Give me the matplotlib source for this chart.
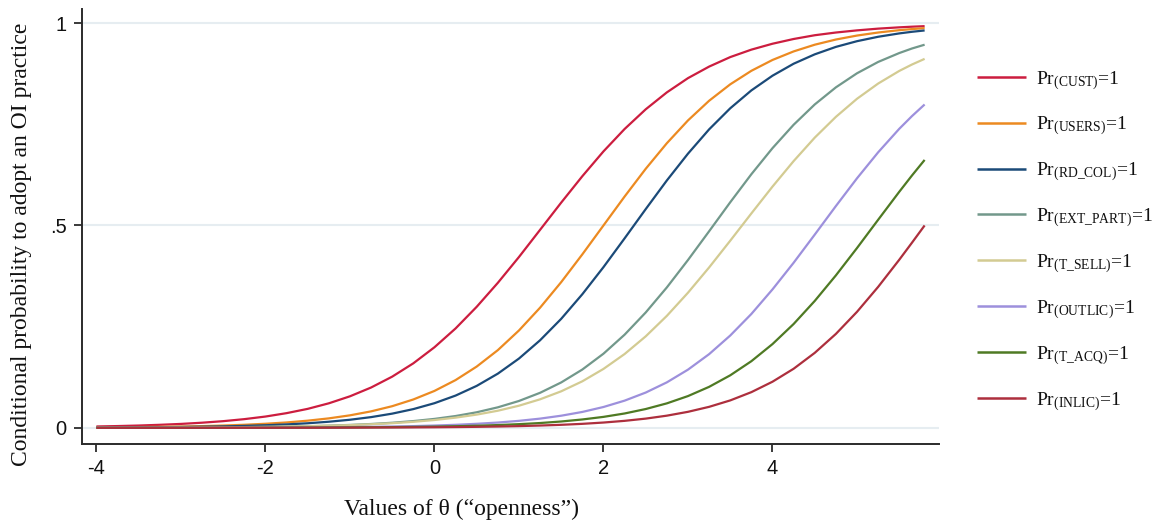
import matplotlib
matplotlib.use('Agg')
import matplotlib.pyplot as plt

# ── fonts ──────────────────────────────────────────────
plt.rcParams['font.family'] = ['Liberation Sans', 'DejaVu Sans']
plt.rcParams['mathtext.fontset'] = 'custom'
plt.rcParams['mathtext.rm'] = 'Liberation Serif'
plt.rcParams['mathtext.it'] = 'Liberation Serif:italic'
SERIF = ['Liberation Serif', 'DejaVu Serif']

# ── item characteristic curves (openness scale) ───────
theta = [-4.0, -3.75, -3.5, -3.25, -3.0, -2.75, -2.5, -2.25, -2.0, -1.75,
         -1.5, -1.25, -1.0, -0.75, -0.5, -0.25, 0.0, 0.25, 0.5, 0.75,
         1.0, 1.25, 1.5, 1.75, 2.0, 2.25, 2.5, 2.75, 3.0, 3.25,
         3.5, 3.75, 4.0, 4.25, 4.5, 4.75, 5.0, 5.25, 5.5, 5.65, 5.8]

pr_cust = [0.0033, 0.0043, 0.0056, 0.0074, 0.0096, 0.0126, 0.0164, 0.0214, 0.0278, 0.0362,
           0.0468, 0.0605, 0.0778, 0.0995, 0.1264, 0.1593, 0.1990, 0.2455, 0.2990, 0.3582,
           0.4220, 0.4892, 0.5565, 0.6217, 0.6830, 0.7383, 0.7870, 0.8288, 0.8640, 0.8925,
           0.9160, 0.9344, 0.9490, 0.9607, 0.9700, 0.9767, 0.9820, 0.9863, 0.9895, 0.9911, 0.9924]
pr_users = [0.0010, 0.0013, 0.0018, 0.0024, 0.0032, 0.0042, 0.0056, 0.0075, 0.0100, 0.0132,
            0.0176, 0.0233, 0.0308, 0.0406, 0.0534, 0.0700, 0.0911, 0.1179, 0.1513, 0.1919,
            0.2405, 0.2968, 0.3600, 0.4286, 0.5000, 0.5714, 0.6400, 0.7032, 0.7595, 0.8081,
            0.8487, 0.8821, 0.9089, 0.9300, 0.9466, 0.9594, 0.9692, 0.9767, 0.9825, 0.9852, 0.9875]
pr_rd_col = [0.0006, 0.0008, 0.0011, 0.0015, 0.0020, 0.0027, 0.0035, 0.0047, 0.0063, 0.0084,
             0.0112, 0.0150, 0.0199, 0.0264, 0.0350, 0.0462, 0.0608, 0.0796, 0.1036, 0.1338,
             0.1711, 0.2163, 0.2693, 0.3301, 0.3970, 0.4681, 0.5404, 0.6112, 0.6774, 0.7374,
             0.7895, 0.8337, 0.8700, 0.8996, 0.9228, 0.9412, 0.9553, 0.9662, 0.9745, 0.9785, 0.9818]
pr_ext_part = [0.0002, 0.0003, 0.0004, 0.0005, 0.0007, 0.0010, 0.0013, 0.0017, 0.0022, 0.0030,
               0.0040, 0.0053, 0.0071, 0.0094, 0.0125, 0.0166, 0.0220, 0.0291, 0.0384, 0.0506,
               0.0663, 0.0865, 0.1121, 0.1440, 0.1831, 0.2301, 0.2850, 0.3469, 0.4146, 0.4856,
               0.5573, 0.6266, 0.6910, 0.7488, 0.7990, 0.8412, 0.8760, 0.9040, 0.9260, 0.9372, 0.9466]
pr_t_sell = [0.0003, 0.0003, 0.0004, 0.0006, 0.0008, 0.0010, 0.0013, 0.0017, 0.0023, 0.0030,
             0.0039, 0.0051, 0.0066, 0.0087, 0.0113, 0.0148, 0.0192, 0.0251, 0.0326, 0.0422,
             0.0546, 0.0704, 0.0902, 0.1149, 0.1455, 0.1823, 0.2260, 0.2766, 0.3338, 0.3962,
             0.4623, 0.5297, 0.5960, 0.6590, 0.7170, 0.7683, 0.8130, 0.8506, 0.8818, 0.8976, 0.9116]
pr_outlic = [0.0001, 0.0001, 0.0001, 0.0001, 0.0002, 0.0003, 0.0003, 0.0004, 0.0006, 0.0008,
             0.0010, 0.0014, 0.0018, 0.0024, 0.0032, 0.0042, 0.0056, 0.0074, 0.0099, 0.0130,
             0.0172, 0.0227, 0.0299, 0.0392, 0.0514, 0.0671, 0.0871, 0.1123, 0.1437, 0.1820,
             0.2280, 0.2813, 0.3420, 0.4078, 0.4774, 0.5479, 0.6165, 0.6807, 0.7388, 0.7701, 0.7989]
pr_t_acq = [0.0000, 0.0000, 0.0001, 0.0001, 0.0001, 0.0001, 0.0002, 0.0002, 0.0003, 0.0004,
            0.0006, 0.0007, 0.0010, 0.0013, 0.0017, 0.0022, 0.0029, 0.0039, 0.0051, 0.0068,
            0.0090, 0.0118, 0.0156, 0.0206, 0.0270, 0.0354, 0.0464, 0.0604, 0.0784, 0.1012,
            0.1297, 0.1646, 0.2069, 0.2565, 0.3135, 0.3766, 0.4442, 0.5140, 0.5832, 0.6234, 0.6619]
pr_inlic = [0.0000, 0.0000, 0.0000, 0.0000, 0.0000, 0.0001, 0.0001, 0.0001, 0.0001, 0.0002,
            0.0002, 0.0003, 0.0004, 0.0006, 0.0008, 0.0010, 0.0013, 0.0018, 0.0024, 0.0032,
            0.0042, 0.0056, 0.0074, 0.0098, 0.0130, 0.0172, 0.0227, 0.0300, 0.0395, 0.0518,
            0.0677, 0.0881, 0.1139, 0.1459, 0.1852, 0.2320, 0.2866, 0.3482, 0.4153, 0.4573, 0.5000]

item_names = ['CUST', 'USERS', 'RD\\_COL', 'EXT\\_PART', 'T\\_SELL', 'OUTLIC', 'T\\_ACQ', 'INLIC']
item_colors = ['#cc1d3f', '#ec8a21', '#1b4a78', '#72988b', '#d3cb92', '#9d90dc', '#4f7a24', '#ad2f3d']

x_ticks = [-4, -2, 0, 2, 4]
y_ticks = [0, 0.5, 1]
y_tick_labels = ['0', '.5', '1']

# ── figure ─────────────────────────────────────────────
fig = plt.figure(figsize=(11.65, 5.25), dpi=100)
fig.patch.set_facecolor('white')
ax = fig.add_axes([0.0704, 0.1543, 0.7356, 0.8287])

curves = [pr_cust, pr_users, pr_rd_col, pr_ext_part, pr_t_sell, pr_outlic, pr_t_acq, pr_inlic]
for name, values, color in zip(item_names, curves, item_colors):
    ax.plot(theta, values, color=color, lw=1.6, solid_capstyle='butt',
            label=r'Pr$_{\mathrm{(' + name + r')}}$=1')

ax.set_xlim(-4.17, 5.97)
ax.set_ylim(-0.040, 1.035)

ax.set_xticks(x_ticks)
ax.set_xticklabels([str(t) for t in x_ticks])
ax.set_yticks(y_ticks)
ax.set_yticklabels(y_tick_labels)

# light horizontal grid at the y ticks
ax.yaxis.grid(True, color='#e6edf1', lw=1.5)
ax.set_axisbelow(True)

for side in ('top', 'right'):
    ax.spines[side].set_visible(False)
for side in ('left', 'bottom'):
    ax.spines[side].set_color('#2b2b2b')
    ax.spines[side].set_linewidth(1.4)

ax.tick_params(axis='both', length=6, width=1.3, color='#2b2b2b',
               labelsize=14.5, labelcolor='#111111')
ax.tick_params(axis='x', pad=5)
ax.tick_params(axis='y', pad=5)

# axis titles in serif
fig.text(461 / 1165, 1 - 509 / 525, 'Values of θ (“openness”)',
         family=SERIF, fontsize=17, ha='center', va='center', color='#111111')
fig.text(22 / 1165, 1 - 244 / 525, 'Conditional probability to adopt an OI practice',
         family=SERIF, fontsize=17, rotation=90, ha='center', va='center', color='#111111')

leg = ax.legend(loc='upper left', bbox_to_anchor=(977 / 1165, 1 - 69 / 525),
                bbox_transform=fig.transFigure, frameon=False,
                prop={'family': SERIF, 'size': 14},
                handlelength=2.5, handletextpad=0.55, labelspacing=1.2,
                borderpad=0, borderaxespad=0)
for line in leg.get_lines():
    line.set_linewidth(1.8)
for txt in leg.get_texts():
    txt.set_color('#111111')

fig.savefig('out.png', dpi=100, facecolor='white')
